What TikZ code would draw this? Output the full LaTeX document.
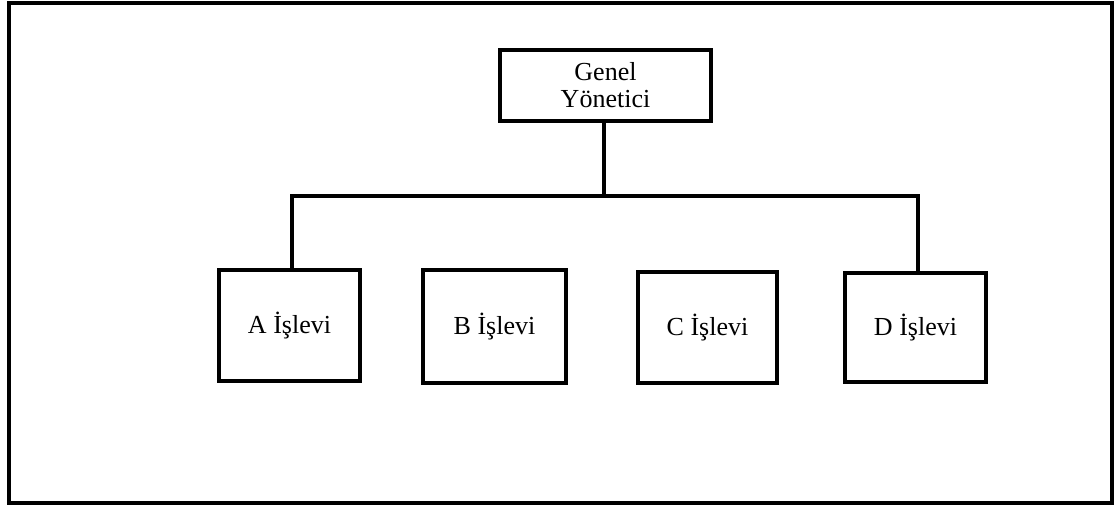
\documentclass[tikz,border=0pt]{standalone}
\usepackage{fontspec}
\setmainfont{Liberation Serif}
\begin{document}
\begin{tikzpicture}[x=1pt,y=-1pt,
  boxstyle/.style={draw=black, line width=4pt, fill=white, inner sep=0pt, align=center,
    font=\fontsize{26}{27}\selectfont},
  conn/.style={draw=black, line width=3.5pt}]
\useasboundingbox (0,0) rectangle (1117,507);
\draw[line width=4.5pt] (9,3) rectangle (1112,503);
\node[boxstyle, minimum width=211pt, minimum height=71pt] (top) at (605.5,85.5) {Genel\\Yönetici};
\node[boxstyle, minimum width=141pt, minimum height=111pt] (a) at (289.5,325.5) {A İşlevi};
\node[boxstyle, minimum width=143pt, minimum height=113pt] (b) at (494.5,326.5) {B İşlevi};
\node[boxstyle, minimum width=139pt, minimum height=111pt] (c) at (707.5,327.5) {C İşlevi};
\node[boxstyle, minimum width=141pt, minimum height=109pt] (d) at (915.5,327.5) {D İşlevi};
\coordinate (j) at (604,196);
\draw[conn] (top.south -| j) -- (j);
\draw[conn, line join=miter] (a.north -| 292,0) -- (292,196) -- (918,196) -- (d.north -| 918,0);
\end{tikzpicture}
\end{document}
